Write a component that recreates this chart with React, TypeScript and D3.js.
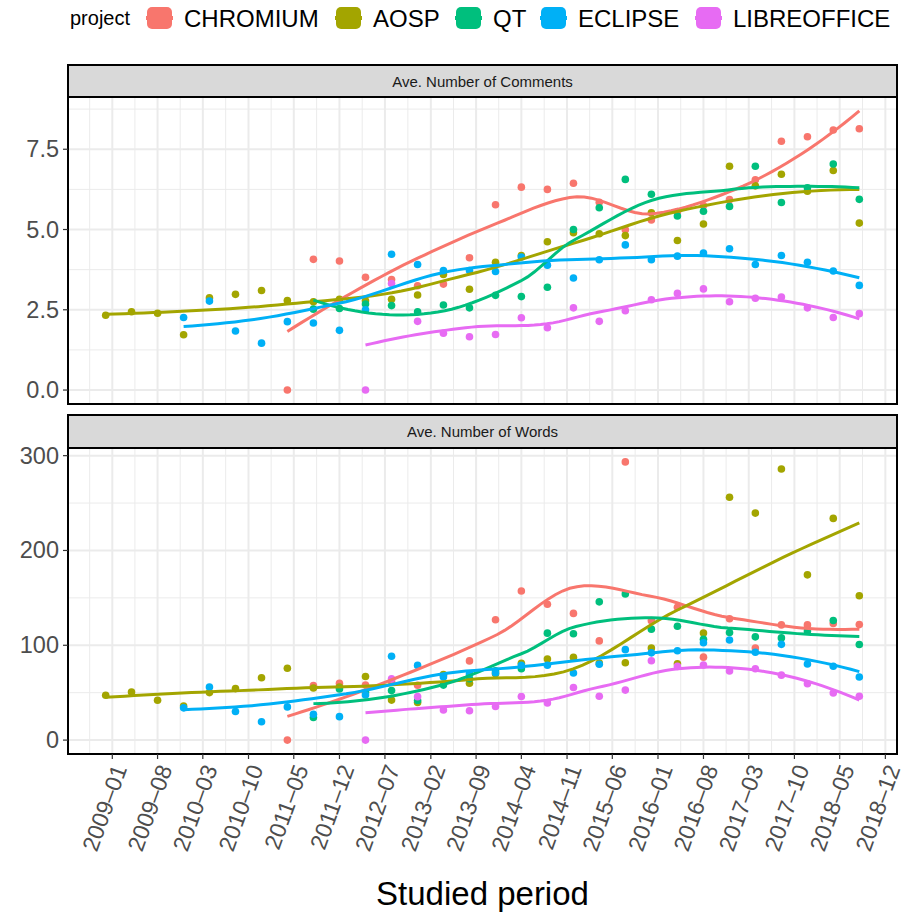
import React from "react";
import * as d3 from "d3";

// sampling periods (every 4 months)
const periods = [
  "2008-12", "2009-04", "2009-08", "2009-12", "2010-04", "2010-08", "2010-12",
  "2011-04", "2011-08", "2011-12", "2012-04", "2012-08", "2012-12", "2013-04",
  "2013-08", "2013-12", "2014-04", "2014-08", "2014-12", "2015-04", "2015-08",
  "2015-12", "2016-04", "2016-08", "2016-12", "2017-04", "2017-08", "2017-12",
  "2018-04", "2018-08",
];

const projects = ["CHROMIUM", "AOSP", "QT", "ECLIPSE", "LIBREOFFICE"];
const colors = ["#F8766D", "#A3A500", "#00BF7D", "#00B0F6", "#E76BF3"];

const xTickLabels = [
  "2009-01", "2009-08", "2010-03", "2010-10", "2011-05", "2011-12", "2012-07",
  "2013-02", "2013-09", "2014-04", "2014-11", "2015-06", "2016-01", "2016-08",
  "2017-03", "2017-10", "2018-05", "2018-12",
];

const _ = null;

// Ave. Number of Comments
const commentsChromium = [_, _, _, _, _, _, _,
  0.0, 4.07, 4.02, 3.51, 3.44, 3.25, 3.3, 4.12, 5.77, 6.32, 6.25, 6.44, 5.85, 4.99,
  5.3, 5.55, 5.75, 5.93, 6.55, 7.75, 7.89, 8.1, 8.14];
const commentsAosp = [2.33, 2.44, 2.39, 1.72, 2.87, 2.98, 3.1, 2.79, 2.75, 2.83,
  2.78, 2.83, 2.96, 3.6, 3.14, 3.98, 4.19, 4.62, 4.9, 4.87, 4.81, 5.52, 4.66, 5.17,
  6.97, 6.36, 6.72, 6.19, 6.84, 5.2];
const commentsQt = [_, _, _, _, _, _, _, _,
  2.52, 2.54, 2.68, 2.63, 2.44, 2.65, 2.56, 2.95, 2.91, 3.2, 5.0, 5.68, 6.56, 6.1,
  5.42, 5.57, 5.72, 6.97, 5.84, 6.3, 7.04, 5.94];
const commentsEclipse = [_, _, _,
  2.26, 2.77, 1.84, 1.46, 2.13, 2.09, 1.86, 2.5, 4.23, 3.91, 3.72, 3.72, 3.69, 4.14,
  3.89, 3.49, 4.06, 4.52, 4.06, 4.17, 4.27, 4.4, 3.91, 4.19, 3.98, 3.71, 3.26];
const commentsLibre = [_, _, _, _, _, _, _, _, _, _,
  0.0, 3.32, 2.14, 1.77, 1.66, 1.73, 2.25, 1.94, 2.56, 2.14, 2.47, 2.81, 3.01, 3.15,
  2.75, 2.86, 2.9, 2.56, 2.26, 2.38];

// Ave. Number of Words
const wordsChromium = [_, _, _, _, _, _, _,
  0, 57.6, 59.8, 58, 62, 57.8, 68, 83.5, 127, 157.2, 143.3, 133.6, 104.6, 293.4,
  126, 140, 87.5, 128, 97.2, 121.5, 121.5, 123, 121.8];
const wordsAosp = [47.3, 50.8, 42.0, 36, 50.1, 54.3, 65.8, 75.8, 55, 56, 67, 42.2,
  39.6, 69, 60, 70, 81, 85.6, 87.2, 81.3, 81.5, 97, 80.5, 113, 256.2, 239.4, 286,
  174.3, 233.8, 152.2];
const wordsQt = [_, _, _, _, _, _, _, _,
  23.8, 53.9, 50.3, 52.2, 41.8, 58, 64.8, 73, 75.3, 112.8, 112.2, 145.8, 154.2, 117,
  120.1, 106.4, 113.5, 108.9, 107.8, 115, 126.2, 100.8];
const wordsEclipse = [_, _, _,
  34, 56, 30.1, 19.3, 35, 27.3, 24.7, 47.6, 88.4, 78.8, 66.6, 70, 70.8, 78.8, 79,
  70.8, 80, 95.4, 92, 94.2, 102.6, 105.6, 92.6, 101, 80.2, 77.9, 66.6];
const wordsLibre = [_, _, _, _, _, _, _, _, _, _,
  0, 64.6, 45.8, 31.8, 30.9, 35.4, 46, 39.2, 55.5, 46.2, 52.7, 83.7, 77.7, 79.2,
  72.9, 75.3, 68.5, 59.5, 49.6, 46.3];

const facets = [
  { title: "Ave. Number of Comments", series: [commentsChromium, commentsAosp, commentsQt, commentsEclipse, commentsLibre], ticks: [0, 2.5, 5, 7.5], fmt: d3.format(".1f") },
  { title: "Ave. Number of Words", series: [wordsChromium, wordsAosp, wordsQt, wordsEclipse, wordsLibre], ticks: [0, 100, 200, 300], fmt: d3.format("d") },
];

const parseMonth = d3.timeParse("%Y-%m");

// local quadratic fit with tricube weights -> [value, slope] at x0
function localFit(xs: number[], ys: number[], x0: number, q: number) {
  const n = xs.length;
  const d = xs.map((x) => Math.abs(x - x0));
  const h = [...d].sort((a, b) => a - b)[q - 1] * 1.0000001;
  const s = [0, 0, 0, 0, 0];
  const t = [0, 0, 0];
  for (let i = 0; i < n; i++) {
    const u = d[i] / h;
    if (u >= 1) continue;
    const w = Math.pow(1 - u * u * u, 3);
    const dx = (xs[i] - x0) / h;
    let p = w;
    for (let k = 0; k < 5; k++) {
      s[k] += p;
      if (k < 3) t[k] += p * ys[i];
      p *= dx;
    }
  }
  const m = [
    [s[0], s[1], s[2], t[0]],
    [s[1], s[2], s[3], t[1]],
    [s[2], s[3], s[4], t[2]],
  ];
  for (let c = 0; c < 3; c++) {
    let piv = c;
    for (let r = c + 1; r < 3; r++) if (Math.abs(m[r][c]) > Math.abs(m[piv][c])) piv = r;
    [m[c], m[piv]] = [m[piv], m[c]];
    for (let r = c + 1; r < 3; r++) {
      const f = m[r][c] / m[c][c];
      for (let k = c; k < 4; k++) m[r][k] -= f * m[c][k];
    }
  }
  const sol = [0, 0, 0];
  for (let r = 2; r >= 0; r--) {
    let v = m[r][3];
    for (let k = r + 1; k < 3; k++) v -= m[r][k] * sol[k];
    sol[r] = v / m[r][r];
  }
  return [sol[0], sol[1] / h];
}

// loess(span = .75, degree = 2) with kd-tree vertices + cubic hermite, like R's default surface
function smooth(pts: { x: Date; y: number }[], span = 0.75) {
  const xs = pts.map((p) => +p.x / 864e5);
  const ys = pts.map((p) => p.y);
  const n = xs.length;
  const q = Math.floor(n * span);
  const fc = Math.floor(n * span * 0.2);
  const sorted = [...xs].sort((a, b) => a - b);
  const lo = sorted[0], hi = sorted[n - 1];
  const mu = 0.005 * (hi - lo);
  const verts = [lo - mu, hi + mu];
  const split = (l: number, u: number) => {
    if (u - l + 1 <= fc) return;
    const m = Math.floor((l + u) / 2);
    verts.push(sorted[m]);
    split(l, m);
    split(m + 1, u);
  };
  split(0, n - 1);
  verts.sort((a, b) => a - b);
  const vfit = verts.map((v) => localFit(xs, ys, v, q));
  return d3.range(80).map((i) => {
    const x = lo + ((hi - lo) * i) / 79;
    let j = 0;
    while (j < verts.length - 2 && x > verts[j + 1]) j++;
    const x0 = verts[j], x1 = verts[j + 1], dxv = x1 - x0;
    const tt = (x - x0) / dxv;
    const [y0, m0] = vfit[j];
    const [y1, m1] = vfit[j + 1];
    const h00 = 2 * tt ** 3 - 3 * tt ** 2 + 1;
    const h10 = tt ** 3 - 2 * tt ** 2 + tt;
    const h01 = -2 * tt ** 3 + 3 * tt ** 2;
    const h11 = tt ** 3 - tt ** 2;
    const y = h00 * y0 + h10 * dxv * m0 + h01 * y1 + h11 * dxv * m1;
    return { x: new Date(x * 864e5), y };
  });
}

const dates = periods.map((p) => parseMonth(p)!);
const xExt = d3.extent(dates) as [Date, Date];
const xPad = (+xExt[1] - +xExt[0]) * 0.05;

const left = 68, right = 897;
const x = d3.scaleTime().domain([new Date(+xExt[0] - xPad), new Date(+xExt[1] + xPad)]).range([left, right]);
const majorDates = xTickLabels.map((l) => parseMonth(l)!);
const minorDates = majorDates.map((d, i) => {
  const prev = i === 0 ? new Date(2 * +d - +majorDates[1]) : majorDates[i - 1];
  return new Date((+prev + +d) / 2);
});

const layout = [
  { stripTop: 65, top: 97, bottom: 404 },
  { stripTop: 415, top: 448, bottom: 754 },
];

function Facet({ f, lay }: { f: typeof facets[0]; lay: typeof layout[0] }) {
  const pts = f.series.map((vals) =>
    vals.map((v, i) => (v == null ? null : { x: dates[i], y: v as number })).filter((p) => p) as { x: Date; y: number }[]
  );
  const fits = pts.map((p) => smooth(p));
  const all = [...pts.flat(), ...fits.flat()].map((p) => p.y);
  const yMin = d3.min(all)!, yMax = d3.max(all)!;
  const yPad = (yMax - yMin) * 0.05;
  const y = d3.scaleLinear().domain([yMin - yPad, yMax + yPad]).range([lay.bottom, lay.top]);
  const step = f.ticks[1] - f.ticks[0];
  const minorY = [...f.ticks.map((t) => t + step / 2), f.ticks[0] - step / 2].filter(
    (t) => y(t) > lay.top && y(t) < lay.bottom
  );
  const line = d3.line<{ x: Date; y: number }>().x((d) => x(d.x)).y((d) => y(d.y));
  const clipId = "clip" + lay.top;
  return (
    <g>
      <clipPath id={clipId}>
        <rect x={left} y={lay.top} width={right - left} height={lay.bottom - lay.top} />
      </clipPath>
      <rect x={left} y={lay.top} width={right - left} height={lay.bottom - lay.top} fill="white" />
      <g clipPath={`url(#${clipId})`}>
        {minorY.map((t) => (
          <line key={"my" + t} x1={left} x2={right} y1={y(t)} y2={y(t)} stroke="#EBEBEB" strokeWidth={1} />
        ))}
        {minorDates.map((d, i) => (
          <line key={"mx" + i} x1={x(d)} x2={x(d)} y1={lay.top} y2={lay.bottom} stroke="#EBEBEB" strokeWidth={1} />
        ))}
        {f.ticks.map((t) => (
          <line key={"y" + t} x1={left} x2={right} y1={y(t)} y2={y(t)} stroke="#EBEBEB" strokeWidth={2} />
        ))}
        {majorDates.map((d, i) => (
          <line key={"x" + i} x1={x(d)} x2={x(d)} y1={lay.top} y2={lay.bottom} stroke="#EBEBEB" strokeWidth={2} />
        ))}
        {pts.map((ps, si) =>
          ps.map((p, i) => <circle key={si + "-" + i} cx={x(p.x)} cy={y(p.y)} r={3.8} fill={colors[si]} />)
        )}
        {fits.map((fit, si) => (
          <path key={"l" + si} d={line(fit)!} fill="none" stroke={colors[si]} strokeWidth={3} />
        ))}
      </g>
      <rect x={left} y={lay.top} width={right - left} height={lay.bottom - lay.top} fill="none" stroke="#000" strokeWidth={2} />
      <rect x={left} y={lay.stripTop} width={right - left} height={lay.top - lay.stripTop} fill="#D9D9D9" stroke="#000" strokeWidth={2} />
      <text x={(left + right) / 2} y={(lay.stripTop + lay.top) / 2} textAnchor="middle" dominantBaseline="central" fontSize={15} fill="#1A1A1A">
        {f.title}
      </text>
      {f.ticks.map((t) => (
        <g key={"yt" + t}>
          <line x1={63} x2={left} y1={y(t)} y2={y(t)} stroke="#333" strokeWidth={1.2} />
          <text x={59} y={y(t)} textAnchor="end" dominantBaseline="central" fontSize={23.5} fill="#4D4D4D">
            {f.fmt(t)}
          </text>
        </g>
      ))}
    </g>
  );
}

export default function App() {
  const bottom = layout[1].bottom;
  const keyX = [146, 335, 455, 540, 695];
  return (
    <svg width={906} height={914} style={{ position: "absolute", left: 0, top: 0, fontFamily: "Liberation Sans, Arial, sans-serif" }}>
      <rect width={906} height={914} fill="white" />
      <text x={70} y={18} dominantBaseline="central" fontSize={20} fill="#000">project</text>
      {projects.map((p, i) => (
        <g key={p}>
          <rect x={keyX[i] + 1} y={7} width={25} height={22} rx={5} fill={colors[i]} />
          <line x1={keyX[i]} x2={keyX[i] + 27} y1={18} y2={18} stroke={colors[i]} strokeWidth={4} />
          <text x={keyX[i] + 38} y={18} dominantBaseline="central" fontSize={24} fill="#000">{p}</text>
        </g>
      ))}
      {facets.map((f, i) => (
        <Facet key={f.title} f={f} lay={layout[i]} />
      ))}
      {majorDates.map((d, i) => (
        <g key={"xt" + i}>
          <line x1={x(d)} x2={x(d)} y1={bottom} y2={bottom + 5} stroke="#333" strokeWidth={1.2} />
          <text transform={`translate(${x(d)},${bottom + 9}) rotate(-70)`} textAnchor="end" dy="0.7em" fontSize={23} fill="#4D4D4D">
            {xTickLabels[i].replace("-", "–")}
          </text>
        </g>
      ))}
      <text x={(left + right) / 2} y={905} textAnchor="middle" fontSize={33} fill="#000">Studied period</text>
    </svg>
  );
}
